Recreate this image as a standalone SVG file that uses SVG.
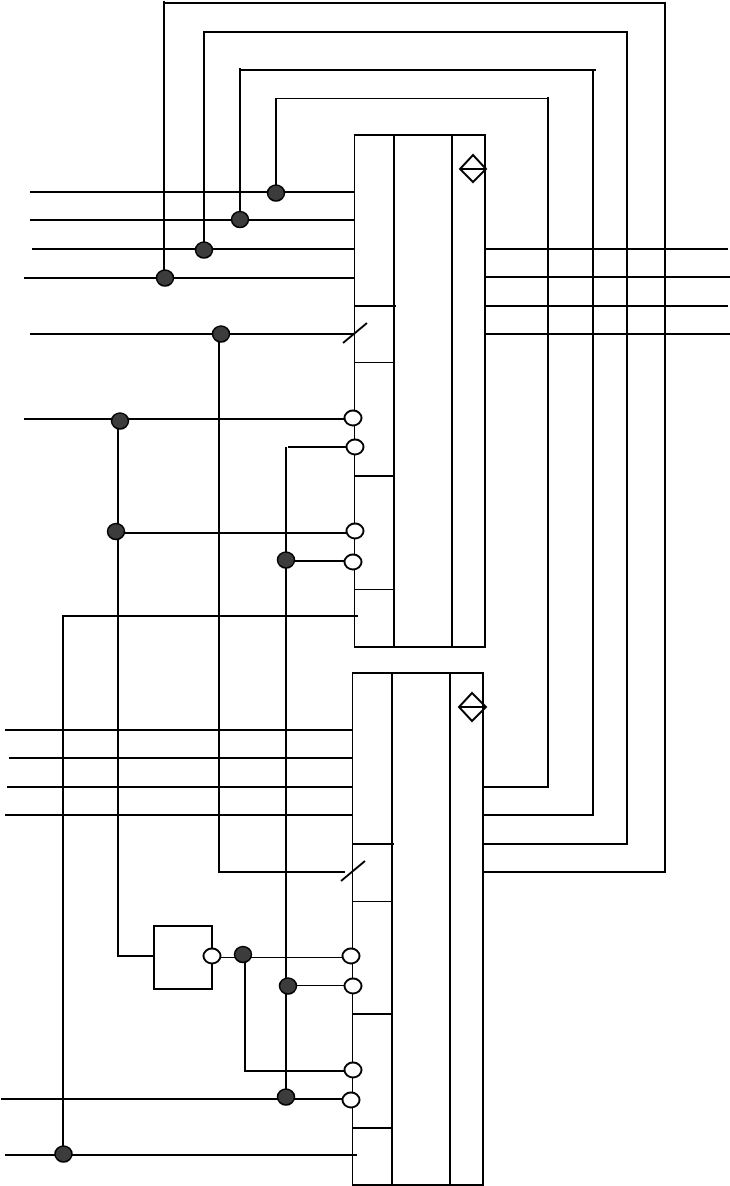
<svg xmlns="http://www.w3.org/2000/svg" width="730" height="1186" viewBox="0 0 730 1186">
<style>
.w{fill:none;stroke:#000;stroke-width:2}
.t{fill:none;stroke:#000;stroke-width:1}
.o{fill:#fff;stroke:#000;stroke-width:2}
.d{fill:#3c3c3c;stroke:#000;stroke-width:1.500}
</style>
<rect width="730" height="1186" fill="#fff"/>
<g id="connectors">
<path class="w" d="M164 278V1M164 3H666M665 2V872H484"/>
<path class="w" d="M204 250V32H628M627 32V844H484"/>
<path class="w" d="M240 220V68M240 70H596M593 70V815H484"/>
<path class="w" d="M276 193V98"/>
<path class="t" d="M276 98.500H548"/>
<path class="w" d="M548 97V787H484"/>
<path class="w" d="M30 192H354M30 220H354M32 249H354M24 278H354M30 334H354"/>
<path class="w" d="M485 249H728M485 277H730M485 306H728M485 334H730"/>
<path class="w" d="M24 419H345M118 421V956H154"/>
<path class="w" d="M116 533H346M286 447V1097M288 447H346M286 561H346"/>
<path class="w" d="M219 334V872H345"/>
<path class="w" d="M358 616H63V1154"/>
<path class="w" d="M5 730H352M9 758H352M7 787H352M5 815H352"/>
<path class="t" d="M221 957.500H343M296 985.500H345"/>
<path class="w" d="M245 955V1071M244 1071H345"/>
<path class="w" d="M1 1099H343M5 1155H357"/>
</g>
<g id="block-upper">
<path class="t" d="M354.500 135V647M354 362.500H394M354 589.500H394"/>
<path class="w" d="M354 135H486M354 647H486M394 135V647M452 135V647M485 135V647M354 306H396M354 476H394"/>
<path class="w" d="M343 343L367 323"/>
<path class="w" d="M473 155L486 169L473 182L460 169ZM460 169H486"/>
</g>
<g id="block-lower">
<path class="t" d="M352.500 673V1185M352 901.500H392"/>
<path class="w" d="M352 673H484M352 1185H484M392 673V1185M450 673V1185M483 673V1185M352 844H394M352 1014H392M352 1128H392"/>
<path class="w" d="M341 881L365 861"/>
<path class="w" d="M472 693L486 707L472 721L459 707ZM459 707H486"/>
</g>
<g id="inverter"><rect class="w" x="154" y="926" width="58" height="63"/><path class="t" d="M220 957.500H235"/><ellipse class="o" cx="212" cy="956" rx="8.500" ry="7.500"/></g>
<g id="junctions">
<ellipse class="d" cx="276" cy="193" rx="8.500" ry="8"/>
<ellipse class="d" cx="240" cy="219.500" rx="8.500" ry="8"/>
<ellipse class="d" cx="204" cy="250" rx="8.500" ry="8"/>
<ellipse class="d" cx="165" cy="278" rx="8.500" ry="8"/>
<ellipse class="d" cx="221" cy="334" rx="8.500" ry="8"/>
<ellipse class="d" cx="120" cy="421" rx="8.500" ry="8"/>
<ellipse class="d" cx="116" cy="531.500" rx="8.500" ry="8"/>
<ellipse class="d" cx="286" cy="560" rx="8.500" ry="8"/>
<ellipse class="d" cx="243" cy="954.500" rx="8.500" ry="8"/>
<ellipse class="d" cx="288" cy="986" rx="8.500" ry="8"/>
<ellipse class="d" cx="286" cy="1097" rx="8.500" ry="8"/>
<ellipse class="d" cx="63.500" cy="1154" rx="8.500" ry="8"/>
</g>
<g id="bubbles">
<ellipse class="o" cx="353" cy="418" rx="8.500" ry="7.500"/>
<ellipse class="o" cx="355" cy="447" rx="8.500" ry="7.500"/>
<ellipse class="o" cx="355" cy="531" rx="8.500" ry="7.500"/>
<ellipse class="o" cx="353" cy="562" rx="8.500" ry="7.500"/>
<ellipse class="o" cx="351" cy="956" rx="8.500" ry="7.500"/>
<ellipse class="o" cx="353" cy="986" rx="8.500" ry="7.500"/>
<ellipse class="o" cx="353" cy="1070" rx="8.500" ry="7.500"/>
<ellipse class="o" cx="351" cy="1100" rx="8.500" ry="7.500"/>
</g>
</svg>
